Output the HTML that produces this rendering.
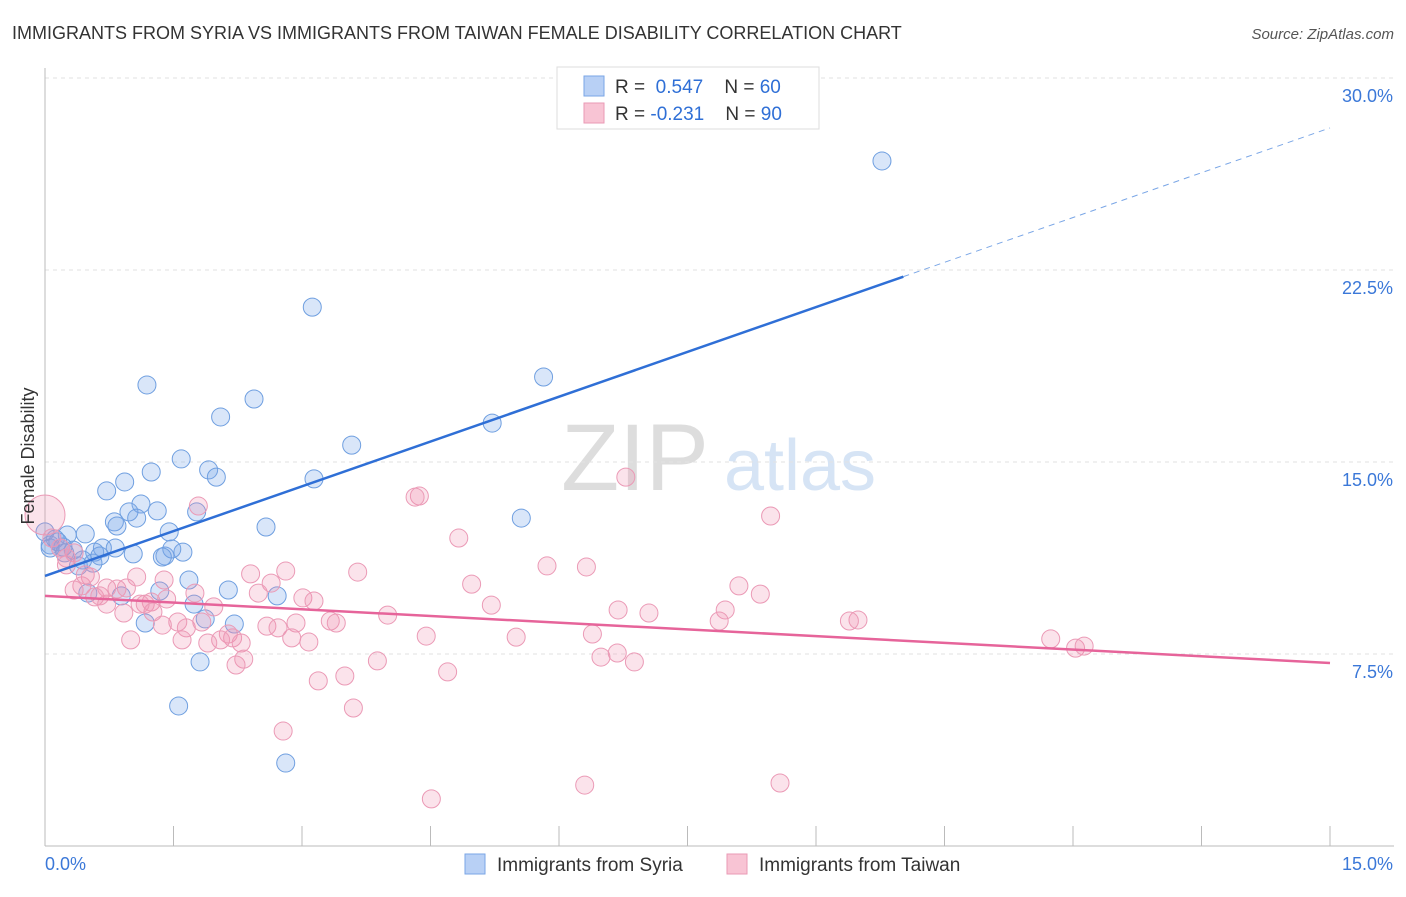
<!DOCTYPE html>
<html><head><meta charset="utf-8"><style>
body{margin:0;background:#fff;font-family:"Liberation Sans",sans-serif;}
svg text{font-family:"Liberation Sans",sans-serif;}
</style></head><body>
<svg id="chart" width="1406" height="892" viewBox="0 0 1406 892" xmlns="http://www.w3.org/2000/svg">
<text x="12" y="39" font-size="18" fill="#333">IMMIGRANTS FROM SYRIA VS IMMIGRANTS FROM TAIWAN FEMALE DISABILITY CORRELATION CHART</text>
<text x="1394" y="39" font-size="15" fill="#555" text-anchor="end" font-style="italic">Source: ZipAtlas.com</text>
<g>
<text x="635" y="490" font-size="95" fill="#ddd" font-family="Liberation Serif" text-anchor="middle">ZIP</text>
<text x="800" y="490" font-size="72" fill="#d6e4f5" text-anchor="middle">atlas</text>
</g>
<g id="grid"></g><g id="axes"></g><g id="pts"></g><g id="lines"></g>
<g>
<rect x="557" y="67" width="262" height="62" fill="#fff" stroke="#ddd"/>
<rect x="584" y="76" width="20" height="20" fill="#b8d0f5" stroke="#7aa6e6"/>
<rect x="584" y="103" width="20" height="20" fill="#f8c4d4" stroke="#ea9ab5"/>
<text x="615" y="93" font-size="19" fill="#333">R = <tspan fill="#2f6fd6">&#160;0.547</tspan>&#160;&#160;&#160; N = <tspan fill="#2f6fd6">60</tspan></text>
<text x="615" y="120" font-size="19" fill="#333">R = <tspan fill="#2f6fd6">-0.231</tspan>&#160;&#160;&#160; N = <tspan fill="#2f6fd6">90</tspan></text>
</g>
<g>
<rect x="465" y="854" width="20" height="20" fill="#b8d0f5" stroke="#7aa6e6"/>
<text x="497" y="871" font-size="19" fill="#333">Immigrants from Syria</text>
<rect x="727" y="854" width="20" height="20" fill="#f8c4d4" stroke="#ea9ab5"/>
<text x="759" y="871" font-size="19" fill="#333">Immigrants from Taiwan</text>
</g>
<text transform="translate(34,456) rotate(-90)" font-size="18" fill="#333" text-anchor="middle">Female Disability</text>
</svg>
<script>
const yTicks=[7.5,15,22.5,30];
const yTickLabels=["7.5%","15.0%","22.5%","30.0%"];
const xTickLabels=["0.0%","15.0%"];
const syriaX=[9.77,3.12,5.82,1.19,2.44,2.05,5.22,3.58,1.59,1.24,1.91,2.00,3.14,0.93,0.72,1.12,1.31,0.98,1.77,0.81,1.07,0.84,2.58,5.56,1.45,0,0.26,0.47,0.12,0.06,0.67,0.21,0.33,0.58,1.03,1.40,1.61,1.48,1.37,0.39,0.56,1.68,2.14,2.71,0.89,1.34,0.50,1.74,1.17,2.21,1.87,1.81,1.56,2.81,0.06,0.15,0.23,0.82,0.64,0.44];
const syriaY=[26.76,21.05,18.32,18.01,17.46,16.76,16.52,15.66,15.12,14.61,14.69,14.41,14.34,14.22,13.87,13.36,13.09,13.05,13.05,12.66,12.81,12.50,12.46,12.81,12.27,12.27,12.15,12.19,11.99,11.76,11.64,11.68,11.56,11.48,11.41,11.33,11.48,11.60,11.29,10.94,11.05,10.39,10.00,9.77,9.77,9.96,9.88,9.45,8.71,8.67,8.87,7.19,5.47,3.24,11.64,11.88,11.45,11.64,11.33,11.17];
const taiwanX=[0,6.78,4.37,4.32,1.79,8.47,4.83,0.08,0.18,0.34,0.25,5.86,6.32,3.65,2.40,2.81,0.53,4.98,8.10,1.39,1.07,0.95,2.64,0.43,0.72,2.49,0.34,0.84,0.58,1.75,3.01,3.14,1.24,1.42,8.35,0.72,5.21,6.69,7.05,7.94,1.17,1.97,0.92,4.00,1.26,7.87,9.49,9.39,1.55,2.93,3.33,3.40,1.65,2.59,2.72,2.14,4.45,5.50,6.39,2.19,2.05,1.90,1.60,2.88,3.08,1.00,2.29,11.74,12.03,12.13,6.49,6.68,6.88,2.32,2.23,3.88,4.70,3.50,3.19,3.60,2.78,4.51,6.30,8.58,1.83,1.37,0.64,1.11,0.25,0.47];
const taiwanY=[12.93,14.41,13.67,13.63,13.28,12.89,12.03,12.03,11.64,11.45,10.98,10.94,10.90,10.70,10.63,10.74,10.51,10.23,10.16,10.39,10.51,10.08,10.27,10.16,10.08,9.88,10.00,10.04,9.73,9.88,9.69,9.57,9.53,9.65,9.84,9.45,9.41,9.22,9.10,9.22,9.45,9.34,9.10,9.02,9.14,8.79,8.83,8.79,8.75,8.71,8.79,8.71,8.52,8.59,8.52,8.28,8.20,8.16,8.28,8.13,8.05,7.93,8.05,8.13,7.97,8.05,7.93,8.09,7.73,7.81,7.38,7.54,7.19,7.30,7.07,7.23,6.80,6.64,6.45,5.39,4.49,1.84,2.38,2.46,8.75,8.63,9.77,9.45,11.25,10.59];
const syriaTrend=[10.55,28.05],syriaSolidEnd=10.02;
const taiwanTrend=[9.77,7.15];
const NS="http://www.w3.org/2000/svg";
const X0=45,X1=1330,YB=846,PPY=192/7.5;
function sx(v){return X0+(v/15)*(X1-X0);}
function sy(v){return YB-v*PPY;}
function mk(t,a,p){const e=document.createElementNS(NS,t);for(const k in a)e.setAttribute(k,a[k]);document.getElementById(p).appendChild(e);return e;}
yTicks.forEach((t,i)=>{
 const g=mk('line',{x1:45,x2:1394,y1:sy(t),y2:sy(t),stroke:'#e2e2e2','stroke-dasharray':'4,4'},'grid');
 
 
 const l=mk('text',{x:1393,y:sy(t)+24,'font-size':18,fill:'#3b78d8','text-anchor':'end'},'grid');
 l.textContent=yTickLabels[i];
 
 
});
const ax=mk('line',{x1:45,x2:1394,y1:YB,y2:YB,stroke:'#bbb'},'axes');


const ay=mk('line',{x1:45,x2:45,y1:68,y2:YB,stroke:'#bbb'},'axes');


for(let i=0;i<=10;i++){const t=mk('line',{x1:sx(i*1.5),x2:sx(i*1.5),y1:826,y2:YB,stroke:'#bbb'},'axes');
 
 }
[[0,'start',45],[15,'end',1393]].forEach((d,i)=>{const t=mk('text',{x:d[2],y:870,'font-size':18,fill:'#3b78d8','text-anchor':d[1]},'axes');t.textContent=xTickLabels[i];
 
 });
function pts(xs,ys,fill,stroke,name){xs.forEach((x,i)=>{const c=mk('circle',{cx:sx(x),cy:sy(ys[i]),r:(name==='taiwan-point'&&i===0)?20:9,fill:fill,stroke:stroke,'stroke-width':1},'pts');
 
 });}
pts(syriaX,syriaY,'rgba(120,165,235,0.28)','#6f9fe0','syria-point');
pts(taiwanX,taiwanY,'rgba(240,145,175,0.25)','#eb9ab6','taiwan-point');
const yAt=f=>syriaTrend[0]+(syriaTrend[1]-syriaTrend[0])*f/15;
const l1=mk('line',{x1:sx(0),y1:sy(syriaTrend[0]),x2:sx(syriaSolidEnd),y2:sy(yAt(syriaSolidEnd)),stroke:'#2f6fd6','stroke-width':2.5},'lines');


const l2=mk('line',{x1:sx(syriaSolidEnd),y1:sy(yAt(syriaSolidEnd)),x2:sx(15),y2:sy(syriaTrend[1]),stroke:'#7aa6e6','stroke-width':1,'stroke-dasharray':'6,5'},'lines');


const l3=mk('line',{x1:sx(0),y1:sy(taiwanTrend[0]),x2:sx(15),y2:sy(taiwanTrend[1]),stroke:'#e6649a','stroke-width':2.5},'lines');


</script>
</body></html>
